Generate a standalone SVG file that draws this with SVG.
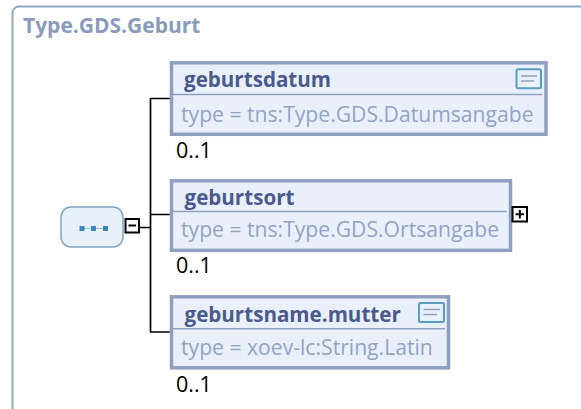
<svg xmlns="http://www.w3.org/2000/svg" width="581" height="409" viewBox="0 0 581 409">
<defs>
<style>
text{font-family:"Open Sans","Noto Sans","Liberation Sans",sans-serif}
.box{fill:#eaf0fb;stroke:#8f9fbf;stroke-width:3.5}
.div{stroke:#8f9fbf;stroke-width:1.500;fill:none}
.name{font-size:20.600px;font-weight:700;fill:#4a5a8c}
.type{font-size:21.150px;fill:#93a3c4}
.occ{font-size:21.500px;fill:#000}
.wire{stroke:#000;stroke-width:1.700;fill:none;stroke-linejoin:round}
.tog{fill:#fff;stroke:#000;stroke-width:2}
.doc{fill:#e8f0f8;stroke:#5b9bc4;stroke-width:2}
.docl{stroke:#8f9fbf;stroke-width:1.300}
</style>
</defs>
<rect width="581" height="409" fill="#fff"/>
<g id="frame">
<path d="M12.500 409V13a6.500 6.500 0 0 1 6.500-6.500H581" fill="none" stroke="#94a6c6" stroke-width="2"/>
<text x="23" y="32.500" font-size="21" font-weight="700" fill="#8a9cbc">Type.GDS.Geburt</text>
</g>
<g id="connectors">
<path class="wire" d="M170 98.500H150.500V332H170M139 227.500H150.500M150.500 214.500H170"/>
</g>
<g id="sequence">
<rect x="61" y="207" width="62" height="40" rx="10" fill="#e8f0f8" stroke="#7fa3c8" stroke-width="1.500"/>
<path d="M81 228.500H105" stroke="#8fb3d0" stroke-width="0.800"/>
<rect x="79.500" y="226" width="5" height="5" fill="#3f86b8"/><rect x="91" y="226" width="5" height="5" fill="#3f86b8"/><rect x="103" y="226" width="5" height="5" fill="#3f86b8"/>
<rect class="tog" x="125.500" y="219" width="13.500" height="13.500"/>
<path d="M128.500 225.500H136" stroke="#000" stroke-width="2"/>
</g>
<g id="geburtsdatum">
<rect class="box" x="171.500" y="62.800" width="374.500" height="71.500"/>
<path class="div" d="M172 94.500H542"/>
<text class="name" x="184" y="87">geburtsdatum</text>
<text class="type" x="181" y="122">type = tns:Type.GDS.Datumsangabe</text>
<rect class="doc" x="516.500" y="69.200" width="24.500" height="19" rx="1.500"/>
<path class="docl" d="M521 76H537M521 81H534"/>
<text class="occ" x="176" y="158">0..1</text>
</g>
<g id="geburtsort">
<rect class="box" x="171.500" y="180.800" width="339" height="69.500"/>
<path class="div" d="M172 211.500H507"/>
<text class="name" x="184.500" y="205">geburtsort</text>
<text class="type" x="181" y="237">type = tns:Type.GDS.Ortsangabe</text>
<rect class="tog" x="512.500" y="207" width="14.500" height="14.500"/>
<path d="M515.500 214.300H524M519.800 210V218.500" stroke="#000" stroke-width="2"/>
<text class="occ" x="176" y="273">0..1</text>
</g>
<g id="geburtsname.mutter">
<rect class="box" x="171.500" y="296.800" width="277" height="71"/>
<path class="div" d="M172 328.800H445"/>
<text class="name" x="184.500" y="321.500">geburtsname.mutter</text>
<text class="type" x="181" y="355">type = xoev-lc:String.Latin</text>
<rect class="doc" x="419" y="303" width="25" height="19" rx="1.500"/>
<path class="docl" d="M423.500 309.500H440M423.500 314.500H437"/>
<text class="occ" x="176" y="392">0..1</text>
</g>
</svg>
